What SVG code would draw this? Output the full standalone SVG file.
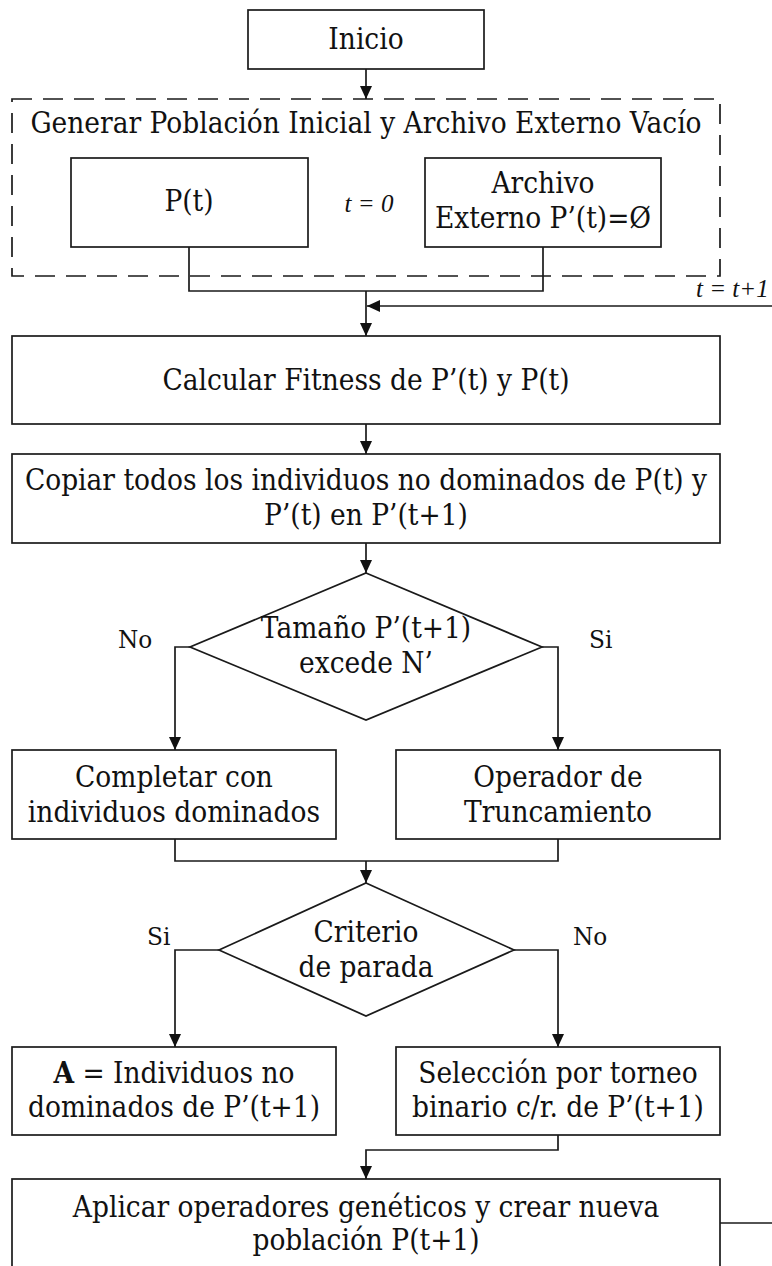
<svg xmlns="http://www.w3.org/2000/svg" width="772" height="1266" viewBox="0 0 772 1266">
<style>
.box{fill:#fff;stroke:#1a1a1a;stroke-width:1.7}
.dash{fill:none;stroke:#1a1a1a;stroke-width:1.7;stroke-dasharray:20 11}
.ln{fill:none;stroke:#1a1a1a;stroke-width:1.7}
.t{font-family:"DejaVu Serif","Liberation Serif",serif;font-size:29px;fill:#111;text-anchor:middle}
.lbl{font-family:"DejaVu Serif","Liberation Serif",serif;font-size:25px;fill:#111}
.it{font-family:"Liberation Serif","DejaVu Serif",serif;font-style:italic;font-size:25px;fill:#111}
</style>
<defs>
<marker id="ah" markerUnits="userSpaceOnUse" markerWidth="14" markerHeight="12" refX="13" refY="6" orient="auto">
<path d="M0,0 L13,6 L0,12 z" fill="#111"/>
</marker>
</defs>
<rect width="772" height="1266" fill="#fff"/>

<g id="connectors">
<line class="ln" x1="366" y1="69" x2="366" y2="99" marker-end="url(#ah)"/>
<polyline class="ln" points="189,247 189,291 543,291 543,247"/>
<line class="ln" x1="366" y1="291" x2="366" y2="336" marker-end="url(#ah)"/>
<line class="ln" x1="772" y1="306" x2="367" y2="306" marker-end="url(#ah)"/>
<line class="ln" x1="366" y1="424" x2="366" y2="454" marker-end="url(#ah)"/>
<line class="ln" x1="366" y1="543" x2="366" y2="573" marker-end="url(#ah)"/>
<polyline class="ln" points="190,647 175,647 175,750" marker-end="url(#ah)"/>
<polyline class="ln" points="542,647 558,647 558,750" marker-end="url(#ah)"/>
<polyline class="ln" points="175,839 175,861 558,861 558,839"/>
<line class="ln" x1="366" y1="861" x2="366" y2="883" marker-end="url(#ah)"/>
<polyline class="ln" points="219,950 175,950 175,1047" marker-end="url(#ah)"/>
<polyline class="ln" points="514,950 558,950 558,1047" marker-end="url(#ah)"/>
<polyline class="ln" points="558,1135 558,1150 366,1150 366,1179" marker-end="url(#ah)"/>
<line class="ln" x1="720" y1="1223" x2="772" y2="1223"/>
<text class="it" x="696" y="297">t = t+1</text>
<text class="lbl" transform="translate(118,648) scale(0.93,1)">No</text>
<text class="lbl" transform="translate(589,648) scale(0.93,1)">Si</text>
<text class="lbl" transform="translate(147,945) scale(0.93,1)">Si</text>
<text class="lbl" transform="translate(573,945) scale(0.93,1)">No</text>
</g>

<g id="inicio">
<rect class="box" x="248" y="10" width="236" height="59"/>
<text class="t" transform="translate(366,49) scale(0.914,1)">Inicio</text>
</g>

<g id="generar">
<rect class="dash" x="12" y="99" width="708" height="177"/>
<text class="t" transform="translate(366,133) scale(0.914,1)">Generar Población Inicial y Archivo Externo Vacío</text>
<text class="it" x="369" y="212" text-anchor="middle">t = 0</text>
</g>

<g id="pt">
<rect class="box" x="71" y="158" width="237" height="89"/>
<text class="t" transform="translate(189,211) scale(0.914,1)">P(t)</text>
</g>

<g id="archivo">
<rect class="box" x="425" y="158" width="236" height="89"/>
<text class="t" transform="translate(543,193) scale(0.914,1)">Archivo</text>
<text class="t" transform="translate(543,228) scale(0.914,1)">Externo P’(t)=Ø</text>
</g>

<g id="calcular">
<rect class="box" x="12" y="336" width="708" height="88"/>
<text class="t" transform="translate(366,390) scale(0.914,1)">Calcular Fitness de P’(t) y P(t)</text>
</g>

<g id="copiar">
<rect class="box" x="12" y="454" width="708" height="89"/>
<text class="t" transform="translate(366,490) scale(0.914,1)">Copiar todos los individuos no dominados de P(t) y</text>
<text class="t" transform="translate(366,525) scale(0.914,1)">P’(t) en P’(t+1)</text>
</g>

<g id="tamano">
<polygon class="box" points="366,573 542,647 366,720 190,647"/>
<text class="t" transform="translate(366,638) scale(0.914,1)">Tamaño P’(t+1)</text>
<text class="t" transform="translate(366,673) scale(0.914,1)">excede N’</text>
</g>

<g id="completar">
<rect class="box" x="12" y="750" width="324" height="89"/>
<text class="t" transform="translate(174,787) scale(0.914,1)">Completar con</text>
<text class="t" transform="translate(174,822) scale(0.914,1)">individuos dominados</text>
</g>

<g id="truncamiento">
<rect class="box" x="396" y="750" width="324" height="89"/>
<text class="t" transform="translate(558,787) scale(0.914,1)">Operador de</text>
<text class="t" transform="translate(558,822) scale(0.914,1)">Truncamiento</text>
</g>

<g id="criterio">
<polygon class="box" points="366,883 514,950 366,1016 219,950"/>
<text class="t" transform="translate(366,942) scale(0.914,1)">Criterio</text>
<text class="t" transform="translate(366,977) scale(0.914,1)">de parada</text>
</g>

<g id="resultado">
<rect class="box" x="12" y="1047" width="324" height="88"/>
<text class="t" transform="translate(174,1083) scale(0.914,1)"><tspan font-weight="bold">A</tspan> = Individuos no</text>
<text class="t" transform="translate(174,1117) scale(0.914,1)">dominados de P’(t+1)</text>
</g>

<g id="seleccion">
<rect class="box" x="396" y="1047" width="324" height="88"/>
<text class="t" transform="translate(558,1083) scale(0.914,1)">Selección por torneo</text>
<text class="t" transform="translate(558,1117) scale(0.914,1)">binario c/r. de P’(t+1)</text>
</g>

<g id="aplicar">
<rect class="box" x="12" y="1179" width="708" height="110"/>
<text class="t" transform="translate(366,1217) scale(0.914,1)">Aplicar operadores genéticos y crear nueva</text>
<text class="t" transform="translate(366,1250) scale(0.914,1)">población P(t+1)</text>
</g>
</svg>
